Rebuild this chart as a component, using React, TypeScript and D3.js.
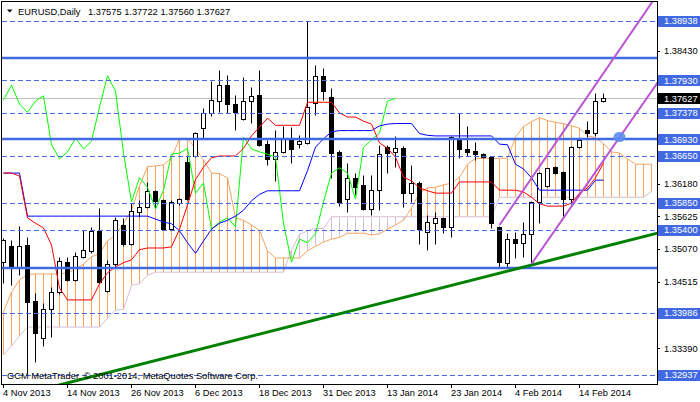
import * as d3 from "d3";

// EURUSD daily bars, 4 Nov 2013 .. 19 Feb 2014
const opens = [
    1.3485, 1.3512, 1.3475, 1.3514, 1.3419, 1.3356, 1.3406, 1.3434, 1.3485, 1.3455,
    1.3494, 1.3504, 1.3538, 1.3436, 1.3482, 1.3548, 1.3516, 1.3570, 1.3578, 1.3606,
    1.3590, 1.3541, 1.3585, 1.3655, 1.3665, 1.3712, 1.3738, 1.3758, 1.3785, 1.3753,
    1.3728, 1.3758, 1.3768, 1.3685, 1.3660, 1.3672, 1.3692, 1.3685, 1.3687, 1.3755,
    1.3801, 1.3765, 1.3672, 1.3592, 1.3628, 1.3616, 1.3575, 1.3607, 1.3680, 1.3672,
    1.3678, 1.3602, 1.3619, 1.3536, 1.3551, 1.3560, 1.3545, 1.3694, 1.3677, 1.3673,
    1.3668, 1.3663, 1.3545, 1.3484, 1.3524, 1.3518, 1.3533, 1.3587, 1.3614, 1.3646,
    1.3638, 1.3592, 1.3680, 1.3709, 1.3704, 1.37575,
];
const highs = [
    1.3526, 1.3523, 1.3546, 1.3527, 1.3433, 1.3416, 1.3443, 1.3494, 1.3494, 1.3502,
    1.3539, 1.3545, 1.3577, 1.3489, 1.3561, 1.3560, 1.3585, 1.3590, 1.3621, 1.3607,
    1.3592, 1.3590, 1.3594, 1.3665, 1.3706, 1.3746, 1.3792, 1.3811, 1.3802, 1.3768,
    1.3799, 1.3782, 1.3811, 1.3692, 1.3709, 1.3716, 1.3714, 1.3700, 1.3893, 1.3819,
    1.3814, 1.3780, 1.3675, 1.3653, 1.3636, 1.3633, 1.3633, 1.3684, 1.3684, 1.3699,
    1.3682, 1.3650, 1.3623, 1.3565, 1.3570, 1.3561, 1.3699, 1.3738, 1.3716, 1.3689,
    1.3670, 1.3665, 1.3546, 1.3534, 1.3536, 1.3553, 1.3589, 1.3638, 1.3645, 1.3648,
    1.3640, 1.3682, 1.3694, 1.3724, 1.3772, 1.37722,
];
const lows = [
    1.3450, 1.3446, 1.3463, 1.3297, 1.3316, 1.3343, 1.3358, 1.3431, 1.3453, 1.3453,
    1.3492, 1.3500, 1.3450, 1.3434, 1.3479, 1.3512, 1.3514, 1.3561, 1.3577, 1.3577,
    1.3539, 1.3539, 1.3582, 1.3590, 1.3663, 1.3695, 1.3733, 1.3739, 1.3738, 1.3709,
    1.3726, 1.3721, 1.3682, 1.3650, 1.3623, 1.3670, 1.3653, 1.3678, 1.3685, 1.3734,
    1.3760, 1.3628, 1.3580, 1.3570, 1.3599, 1.3573, 1.3565, 1.3573, 1.3636, 1.3646,
    1.3578, 1.3587, 1.3516, 1.3506, 1.3516, 1.3534, 1.3527, 1.3662, 1.3665, 1.3658,
    1.3662, 1.3543, 1.3477, 1.3475, 1.3492, 1.3494, 1.3482, 1.3551, 1.3612, 1.3634,
    1.3561, 1.3584, 1.3678, 1.3697, 1.3699, 1.37560,
];
const closes = [
    1.3523, 1.3475, 1.3513, 1.3417, 1.3365, 1.3406, 1.3434, 1.3487, 1.3455, 1.3495,
    1.3506, 1.3538, 1.3451, 1.3482, 1.3556, 1.3516, 1.3572, 1.3578, 1.3606, 1.3589,
    1.3541, 1.3587, 1.3592, 1.3592, 1.3704, 1.3738, 1.3760, 1.3785, 1.3753, 1.3739,
    1.3758, 1.3767, 1.3684, 1.3660, 1.3672, 1.3695, 1.3677, 1.3690, 1.3748, 1.3801,
    1.3775, 1.3670, 1.3587, 1.3628, 1.3612, 1.3575, 1.3607, 1.3668, 1.3670, 1.3678,
    1.3602, 1.3619, 1.3541, 1.3553, 1.3560, 1.3545, 1.3697, 1.3677, 1.3672, 1.3668,
    1.3663, 1.3551, 1.3485, 1.3524, 1.3518, 1.3533, 1.3587, 1.3636, 1.3645, 1.3636,
    1.3592, 1.3680, 1.3692, 1.3704, 1.3758, 1.37627,
];

// Ichimoku
const tenkan = [
    1.3636, 1.3636, 1.3631, 1.3560, 1.3551, 1.3543, 1.3514, 1.3441, 1.3421, 1.3421,
    1.3421, 1.3421, 1.3448, 1.3467, 1.3477, 1.3484, 1.3489, 1.3506, 1.3509, 1.3509,
    1.3509, 1.3511, 1.3541, 1.3582, 1.3625, 1.3646, 1.3662, 1.3665, 1.3665, 1.3665,
    1.3678, 1.3699, 1.3714, 1.3729, 1.3717, 1.3717, 1.3717, 1.3717, 1.3756, 1.3756,
    1.3756, 1.3756, 1.3738, 1.3731, 1.3731, 1.3724, 1.3719, 1.3687, 1.3678, 1.3663,
    1.3629, 1.3623, 1.3611, 1.3606, 1.3602, 1.3602, 1.3602, 1.3621, 1.3621, 1.3621,
    1.3621, 1.3621, 1.3607, 1.3607, 1.3607, 1.3604, 1.3595, 1.3584, 1.3580, 1.3580,
    1.3580, 1.3585, 1.3602, 1.3611, 1.3628, 1.3653,
];
const kijun = [
    1.3636, 1.3636, 1.3636, 1.3563, 1.3563, 1.3563, 1.3563, 1.3563, 1.3563, 1.3563,
    1.3563, 1.3563, 1.3563, 1.3563, 1.3563, 1.3563, 1.3563, 1.3563, 1.3563, 1.3558,
    1.3553, 1.3550, 1.3538, 1.3518, 1.3500, 1.3521, 1.3541, 1.3551, 1.3556, 1.3563,
    1.3573, 1.3589, 1.3600, 1.3606, 1.3606, 1.3606, 1.3606, 1.3606, 1.3640, 1.3680,
    1.3694, 1.3706, 1.3708, 1.3708, 1.3708, 1.3708, 1.3708, 1.3716, 1.3719, 1.3720,
    1.3720, 1.3720, 1.3703, 1.3700, 1.3699, 1.3699, 1.3699, 1.3699, 1.3699, 1.3699,
    1.3699, 1.3699, 1.3685, 1.3684, 1.3651, 1.3643, 1.3628, 1.3607, 1.3607, 1.3607,
    1.3607, 1.3607, 1.3607, 1.3607, 1.3624, 1.3624,
];
const senkouA = [
    1.3401, 1.3434, 1.3455, 1.3464, 1.3465, 1.3465, 1.3465, 1.3465, 1.3467, 1.3473,
    1.3482, 1.3494, 1.3500, 1.3521, 1.3531, 1.3551, 1.3573, 1.3614, 1.3647, 1.3648,
    1.3650, 1.3662, 1.3694, 1.3695, 1.3678, 1.3658, 1.3636, 1.3635, 1.3628, 1.3560,
    1.3556, 1.3548, 1.3539, 1.3504, 1.3492, 1.3492, 1.3492, 1.3492, 1.3504, 1.3512,
    1.3519, 1.3524, 1.3527, 1.3534, 1.3534, 1.3534, 1.3531, 1.3533, 1.3541, 1.3548,
    1.3556, 1.3577, 1.3602, 1.3611, 1.3612, 1.3616, 1.3619, 1.3629, 1.3651, 1.3661,
    1.3661, 1.3661, 1.3661, 1.3661, 1.3697, 1.3715, 1.3723, 1.3730, 1.3725, 1.3722,
    1.3720, 1.3716, 1.3712, 1.3699, 1.3696, 1.3686, 1.3672, 1.3670, 1.3660, 1.3651,
    1.3651, 1.3651,
];
const senkouB = [
    1.3328, 1.3343, 1.3360, 1.3375, 1.3375, 1.3375, 1.3375, 1.3375, 1.3375, 1.3375,
    1.3375, 1.3375, 1.3375, 1.3390, 1.3404, 1.3405, 1.3446, 1.3448, 1.3463, 1.3468,
    1.3468, 1.3468, 1.3468, 1.3468, 1.3468, 1.3468, 1.3468, 1.3468, 1.3468, 1.3468,
    1.3468, 1.3468, 1.3468, 1.3468, 1.3468, 1.3468, 1.3506, 1.3532, 1.3538, 1.3542,
    1.3542, 1.3562, 1.3562, 1.3562, 1.3562, 1.3562, 1.3562, 1.3562, 1.3562, 1.3562,
    1.3562, 1.3562, 1.3562, 1.3562, 1.3562, 1.3562, 1.3562, 1.3562, 1.3562, 1.3562,
    1.3562, 1.3562, 1.3595, 1.3595, 1.3595, 1.3595, 1.3595, 1.3595, 1.3595, 1.3595,
    1.3595, 1.3595, 1.3595, 1.3595, 1.3595, 1.3595, 1.3595, 1.3595, 1.3595, 1.3595,
    1.3595, 1.3605,
];
// chikou span = close plotted 26 bars back
const chikou = closes.slice(26);

const xTickBars = [0, 8, 16, 24, 32, 40, 48, 56, 64, 72];
const xTickLabels = [
    "4 Nov 2013", "14 Nov 2013", "26 Nov 2013", "6 Dec 2013", "18 Dec 2013",
    "31 Dec 2013", "13 Jan 2014", "23 Jan 2014", "4 Feb 2014", "14 Feb 2014",
];
// scale labels not hidden behind the level boxes
const priceTicks = [1.3843, 1.3618, 1.35625, 1.3507, 1.34515, 1.3339];

// drawn objects
const solidLevels = [1.38311, 1.3693, 1.34759];
const dashedLevels = [1.38938, 1.3793, 1.37378, 1.3665, 1.3585, 1.354, 1.33986, 1.32937];
const labelledLevels = [1.38938, 1.3793, 1.37378, 1.3693, 1.3665, 1.3585, 1.354, 1.33986, 1.32937];
const greenTrend = [{ bar: 0, price: 1.32528 }, { bar: 82, price: 1.35352 }];
const channelUpper = [{ bar: 62, price: 1.3548 }, { bar: 82, price: 1.3944 }];
const channelLower = [{ bar: 66, price: 1.3482 }, { bar: 82, price: 1.3794 }];
const marker = { bar: 77, price: 1.3697 };

const title = "EURUSD,Daily";
const quote = "1.37575 1.37722 1.37560 1.37627";
const copyright = "GCM MetaTrader, \u00a9 2001-2014, MetaQuotes Software Corp.";

const FONT = "'Liberation Sans', Arial, sans-serif";
const BLUE = "#4169E1";

const plot = { left: 2, top: 2, right: 657, bottom: 384 };

const x = d3.scaleLinear().domain([0, 75]).range([3.5, 603.5]);
const y = d3.scaleLinear().domain([1.32937, 1.38938]).range([375, 21]);
const px = (v: number) => Math.round(y(v)) + 0.5;

interface Anchor {
    bar: number;
    price: number;
}

function Cloud() {
    const line = d3
        .line<number>()
        .x((_, i) => x(i))
        .y((d) => y(d));
    return (
        <g>
            {senkouA.map((a, i) => {
                const b = senkouB[i];
                return (
                    <line
                        key={i}
                        x1={x(i)}
                        x2={x(i)}
                        y1={y(a)}
                        y2={y(b)}
                        stroke={a >= b ? "#F4A460" : "#D8BFD8"}
                        strokeWidth={1}
                    />
                );
            })}
            <path d={line(senkouB) || ""} fill="none" stroke="#D8BFD8" strokeWidth={1} />
            <path d={line(senkouA) || ""} fill="none" stroke="#F4A460" strokeWidth={1} />
        </g>
    );
}

function Candles() {
    return (
        <g>
            {closes.map((c, i) => {
                const o = opens[i];
                const bull = c >= o;
                const top = Math.min(px(o), px(c));
                const h = Math.max(Math.abs(px(o) - px(c)), 1);
                return (
                    <g key={i}>
                        <line
                            x1={x(i)}
                            x2={x(i)}
                            y1={px(highs[i])}
                            y2={px(lows[i])}
                            stroke="black"
                        />
                        <rect
                            x={x(i) - 2}
                            y={top}
                            width={4}
                            height={h}
                            fill={bull ? "white" : "black"}
                            stroke="black"
                        />
                    </g>
                );
            })}
        </g>
    );
}

function IchimokuLines() {
    const line = d3
        .line<number>()
        .x((_, i) => x(i))
        .y((d) => y(d));
    return (
        <g fill="none" strokeWidth={1}>
            <path d={line(chikou) || ""} stroke="#00FF00" />
            <path d={line(kijun) || ""} stroke="#0000FF" />
            <path d={line(tenkan) || ""} stroke="#FF0000" />
        </g>
    );
}

function TrendLine({ pts, color, width }: { pts: Anchor[]; color: string; width: number }) {
    return (
        <line
            x1={x(pts[0].bar)}
            y1={y(pts[0].price)}
            x2={x(pts[1].bar)}
            y2={y(pts[1].price)}
            stroke={color}
            strokeWidth={width}
        />
    );
}

function Levels() {
    return (
        <g>
            {dashedLevels.map((v, i) => (
                <line
                    key={`d${i}`}
                    x1={plot.left}
                    x2={plot.right}
                    y1={px(v)}
                    y2={px(v)}
                    stroke={BLUE}
                    strokeDasharray="5,3"
                />
            ))}
            {solidLevels.map((v, i) => (
                <line
                    key={`s${i}`}
                    x1={plot.left}
                    x2={plot.right}
                    y1={Math.round(y(v))}
                    y2={Math.round(y(v))}
                    stroke={BLUE}
                    strokeWidth={2.5}
                />
            ))}
        </g>
    );
}

function PriceAxis() {
    const last = closes[closes.length - 1];
    return (
        <g fontFamily={FONT} fontSize={9.3}>
            {priceTicks.map((v, i) => (
                <g key={i}>
                    <line x1={plot.right} x2={plot.right + 3} y1={px(v)} y2={px(v)} stroke="black" />
                    <text x={664} y={y(v)} dy="0.35em" fill="black">
                        {v.toFixed(5)}
                    </text>
                </g>
            ))}
            {labelledLevels.map((v, i) => (
                <g key={`l${i}`}>
                    <rect x={658} y={Math.round(y(v)) - 5} width={42} height={11} fill={BLUE} />
                    <text x={664} y={y(v)} dy="0.35em" fill="white">
                        {v.toFixed(5)}
                    </text>
                </g>
            ))}
            <rect x={658} y={Math.round(y(last)) - 5} width={42} height={11} fill="black" />
            <text x={664} y={y(last)} dy="0.35em" fill="white">
                {last.toFixed(5)}
            </text>
        </g>
    );
}

function TimeAxis() {
    return (
        <g fontFamily={FONT} fontSize={9.3}>
            {xTickBars.map((b, i) => (
                <g key={i}>
                    <line
                        x1={Math.floor(x(b)) + 0.5}
                        x2={Math.floor(x(b)) + 0.5}
                        y1={plot.bottom}
                        y2={plot.bottom + 4}
                        stroke="black"
                    />
                    <text x={Math.floor(x(b))} y={396} fill="black">
                        {xTickLabels[i]}
                    </text>
                </g>
            ))}
        </g>
    );
}

export default function App() {
    const last = closes[closes.length - 1];
    return (
        <div style={{ position: "absolute", left: 0, top: 0 }}>
            <svg width={700} height={402} style={{ display: "block", background: "white" }}>
                <defs>
                    <clipPath id="plotClip">
                        <rect
                            x={plot.left}
                            y={plot.top}
                            width={plot.right - plot.left}
                            height={plot.bottom - plot.top}
                        />
                    </clipPath>
                </defs>
                <rect width={700} height={402} fill="white" />
                <g clipPath="url(#plotClip)">
                    <Cloud />
                    <line
                        x1={plot.left}
                        x2={plot.right}
                        y1={px(last)}
                        y2={px(last)}
                        stroke="#C0C0C0"
                    />
                    <Candles />
                    <IchimokuLines />
                    <Levels />
                    <TrendLine pts={greenTrend} color="#008000" width={3} />
                    <TrendLine pts={channelUpper} color="#BA55D3" width={2} />
                    <TrendLine pts={channelLower} color="#BA55D3" width={2} />
                    <ellipse
                        cx={x(marker.bar)}
                        cy={y(marker.price)}
                        rx={6}
                        ry={5}
                        fill="#5B8DEF"
                        opacity={0.9}
                    />
                    <text x={7} y={379} fontFamily={FONT} fontSize={9.3} fill="black">
                        {copyright}
                    </text>
                </g>
                <rect
                    x={plot.left - 0.5}
                    y={plot.top - 0.5}
                    width={plot.right - plot.left + 1}
                    height={plot.bottom - plot.top + 1}
                    fill="none"
                    stroke="black"
                />
                <PriceAxis />
                <TimeAxis />
                <path d="M7,9.5 L12.5,9.5 L9.75,12.5 Z" fill="black" />
                <text x={18} y={14.5} fontFamily={FONT} fontSize={9.3} fill="black">
                    {title}
                    <tspan x={88}>{quote}</tspan>
                </text>
            </svg>
        </div>
    );
}
